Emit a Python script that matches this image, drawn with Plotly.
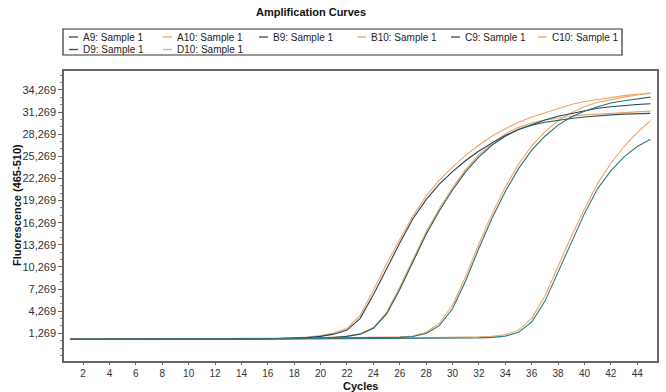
import plotly.graph_objects as go

# ---------------- data ----------------
cycles = list(range(1, 46))

series_names = ["A9: Sample 1", "A10: Sample 1", "B9: Sample 1", "B10: Sample 1",
                "C9: Sample 1", "C10: Sample 1", "D9: Sample 1", "D10: Sample 1"]

a9 = [450, 480, 470, 460, 500, 490, 480, 470, 490, 510, 500, 480, 470, 490, 500, 520, 540, 600, 680,
      850, 1150, 1700, 3300, 6500, 10100, 13500, 16800, 19400, 21500, 23200, 24700, 26000, 27100,
      28100, 28900, 29600, 30200, 30700, 31100, 31500, 31800, 32000, 32200, 32300, 32400]
a10 = [500, 520, 480, 500, 510, 530, 520, 500, 510, 530, 520, 500, 520, 560, 580, 560, 580, 650, 750,
       950, 1300, 1950, 3700, 7100, 10700, 14000, 17200, 19900, 22000, 23800, 25400, 26800, 28000,
       29000, 29900, 30600, 31200, 31800, 32300, 32700, 33000, 33300, 33500, 33700, 33800]
b9 = [470, 460, 480, 470, 450, 470, 490, 480, 470, 480, 500, 490, 480, 470, 490, 500, 510, 520, 560, 620, 700,
      850, 1150, 1950, 3900, 7200, 11000, 14700, 17900, 20700, 23200, 25200, 26800, 28000, 28900,
      29500, 29900, 30200, 30400, 30600, 30800, 30900, 31000, 31100, 31100]
b10 = [520, 500, 510, 520, 500, 480, 510, 530, 520, 510, 500, 520, 540, 560, 540, 530, 540, 560, 600, 650, 720,
       880, 1200, 2050, 4100, 7500, 11300, 15000, 18200, 21000, 23500, 25500, 27100, 28300, 29200,
       29800, 30200, 30500, 30700, 30900, 31000, 31100, 31200, 31300, 31400]
c9 = [460, 470, 480, 460, 470, 480, 470, 460, 480, 470, 490, 480, 470, 490, 480, 470, 490, 500, 510, 520,
      540, 560, 590, 620, 660, 720,
      830, 1250, 2300, 4600, 8400, 12800, 16900, 20500, 23600, 26100, 28000, 29500, 30600, 31400,
      32000, 32500, 32800, 33100, 33300]
c10 = [510, 500, 520, 540, 520, 500, 530, 520, 510, 530, 520, 540, 560, 600, 580, 560, 560, 580, 600, 620,
       620, 640, 660, 690, 720, 780,
       910, 1400, 2600, 5100, 9000, 13400, 17500, 21100, 24200, 26700, 28600, 30100, 31200, 32000,
       32600, 33000, 33300, 33600, 33900]
d9 = [450, 460, 470, 460, 450, 470, 480, 470, 460, 470, 480, 470, 460, 470, 480, 490, 480, 470, 490, 500,
      490, 480, 500, 510, 520, 510, 520, 540, 550, 570, 600, 640,
      710, 880, 1400, 2800, 5600, 9600, 13700, 17500, 20900, 23300, 25200, 26600, 27600]
d10 = [500, 510, 490, 500, 520, 510, 500, 520, 510, 530, 520, 510, 540, 580, 560, 540, 560, 580, 600, 580,
       600, 590, 600, 610, 620, 630, 640, 660, 680, 700, 730, 780,
       860, 1080, 1700, 3300, 6300, 10300, 14400, 18100, 21600, 24300, 26600, 28500, 30100]

series_values = [a9, a10, b9, b10, c9, c10, d9, d10]

x_tick_vals = [2, 4, 6, 8, 10, 12, 14, 16, 18, 20, 22, 24, 26, 28, 30, 32, 34, 36, 38, 40, 42, 44]
y_tick_vals = [1269, 4269, 7269, 10269, 13269, 16269, 19269, 22269, 25269, 28269, 31269, 34269]
y_tick_text = ["1,269", "4,269", "7,269", "10,269", "13,269", "16,269", "19,269", "22,269",
               "25,269", "28,269", "31,269", "34,269"]

x_title = "Cycles"
y_title = "Fluorescence (465-510)"
chart_title = "Amplification Curves"

# ---------------- style ----------------
W, H = 666, 392
ML, MR, MT, MB = 64, 9, 71, 31
PW, PH = W - ML - MR, H - MT - MB

teal = ["#1d4258", "#1d4258", "#22586a", "#22586a", "#2a6e7c", "#2a6e7c", "#2f7a84", "#2f7a84"]
orange = "#f2a462"
colors = []
for i in range(8):
    colors.append(teal[i] if i % 2 == 0 else orange)
legend_dark = "#24525f"

FONT = "Liberation Sans, Arial, sans-serif"


def px_x(px):
    return (px - ML) / PW


def px_y(py):
    return (MT + PH - py) / PH


fig = go.Figure()
order = [1, 3, 5, 7, 0, 2, 4, 6]
for i in order:
    fig.add_trace(go.Scatter(
        x=cycles, y=series_values[i], mode="lines", name=series_names[i],
        line=dict(color=colors[i], width=1.1), showlegend=False,
    ))

# ---------------- custom legend ----------------
shapes = []
annotations = []
shapes.append(dict(type="rect", xref="paper", yref="paper",
                   x0=px_x(63), x1=px_x(622), y0=px_y(55), y1=px_y(29),
                   line=dict(color="#333333", width=1.2), fillcolor="white", layer="above"))
col_x = [69, 163, 259, 357, 451, 538]
row_y = [37, 49.5]
for k, name in enumerate(series_names):
    r = k // 6
    c = k % 6
    x0 = col_x[c]
    y0 = row_y[r]
    col = legend_dark if k % 2 == 0 else orange
    shapes.append(dict(type="line", xref="paper", yref="paper",
                       x0=px_x(x0), x1=px_x(x0 + 9), y0=px_y(y0), y1=px_y(y0),
                       line=dict(color=col, width=1.3), layer="above"))
    annotations.append(dict(text=name, xref="paper", yref="paper",
                            x=px_x(x0 + 12), y=px_y(y0), xanchor="left", yanchor="middle",
                            showarrow=False, font=dict(family=FONT, size=10, color="#222222")))

# axis titles
annotations.append(dict(text="<b>" + x_title + "</b>", xref="paper", yref="paper",
                        x=px_x(360), y=px_y(393), xanchor="center", yanchor="bottom",
                        showarrow=False, borderpad=0,
                        font=dict(family=FONT, size=11, color="#111111")))
annotations.append(dict(text="<b>" + y_title + "</b>", xref="paper", yref="paper",
                        x=px_x(17), y=px_y(205), xanchor="center", yanchor="middle", textangle=-90,
                        showarrow=False, font=dict(family=FONT, size=11, color="#111111")))

fig.update_layout(
    width=W, height=H,
    margin=dict(l=ML, r=MR, t=MT, b=MB, pad=0),
    paper_bgcolor="white", plot_bgcolor="white",
    title=dict(text="<b>" + chart_title + "</b>", x=311 / W, xanchor="center",
               y=1 - 12 / H, yanchor="middle",
               font=dict(family=FONT, size=11, color="#111111")),
    shapes=shapes, annotations=annotations,
    showlegend=False,
)
fig.update_xaxes(
    range=[0.55, 45.5], tickmode="array", tickvals=x_tick_vals,
    ticks="outside", ticklen=2, tickcolor="#666666",
    showline=True, mirror=True, linecolor="#666666", linewidth=1.5,
    showgrid=False, zeroline=False, automargin=False,
    tickfont=dict(family=FONT, size=10, color="#333333"),
)
fig.update_yaxes(
    range=[-2490, 36845], tickmode="array", tickvals=y_tick_vals, ticktext=y_tick_text,
    ticks="outside", ticklen=4, tickcolor="#666666",
    minor=dict(ticks="outside", ticklen=2, dtick=1000, tick0=269, tickcolor="#888888"),
    showline=True, mirror=True, linecolor="#666666", linewidth=1.5,
    showgrid=False, zeroline=False, automargin=False,
    tickfont=dict(family=FONT, size=11, color="#333333"),
)

fig.write_html("out.html")
